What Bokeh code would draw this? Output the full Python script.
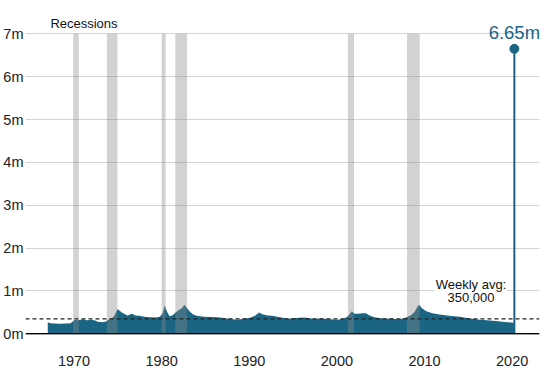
from bokeh.plotting import figure
from bokeh.embed import file_html
from bokeh.resources import INLINE
from bokeh.models import Range1d, CustomJSTickFormatter, Span, FixedTicker, ColumnDataSource
from bokeh.core.properties import value

# Weekly initial jobless claims (thousands)
years = [1967.0, 1967.3, 1967.8, 1968.4, 1969.0, 1969.6, 1970.1, 1970.5, 1971.0, 1971.5,
         1972.0, 1972.4, 1972.7, 1973.2, 1973.6, 1973.9, 1974.3, 1974.6, 1974.97, 1975.2,
         1975.5, 1976.1, 1976.6, 1977.0, 1977.5, 1978.0, 1978.7, 1979.3, 1979.8, 1980.1,
         1980.35, 1980.6, 1980.9, 1981.2, 1981.6, 1982.0, 1982.3, 1982.6, 1982.9, 1983.2,
         1983.6, 1984.0, 1984.8, 1985.7, 1986.7, 1987.6, 1988.6, 1989.4, 1990.2, 1990.7,
         1991.1, 1991.5, 1992.1, 1992.6, 1993.2, 1994.4, 1995.3, 1996.3, 1997.3, 1998.3,
         1999.2, 2000.1, 2000.8, 2001.2, 2001.7, 2002.0, 2002.4, 2002.9, 2003.3, 2003.8,
         2004.4, 2005.3, 2006.3, 2007.2, 2007.9, 2008.5, 2008.9, 2009.2, 2009.4, 2009.7,
         2010.2, 2010.9, 2011.7, 2012.8, 2014.0, 2015.2, 2016.3, 2017.5, 2018.6, 2019.5,
         2020.2]
claims = [270, 250, 240, 235, 240, 250, 330, 320, 340, 320,
          330, 310, 280, 270, 280, 330, 360, 420, 580, 540,
          490, 430, 470, 430, 420, 400, 390, 380, 400, 480,
          660, 520, 410, 430, 500, 560, 600, 680, 600, 520,
          450, 420, 400, 395, 380, 350, 330, 350, 380, 430,
          500, 460, 430, 420, 400, 350, 370, 380, 350, 360,
          340, 330, 360, 400, 530, 470, 470, 480, 480, 420,
          380, 360, 350, 340, 380, 440, 520, 640, 680, 600,
          530, 480, 450, 420, 400, 360, 330, 310, 290, 270,
          260]

spike_year = [2020.25]
spike_val = [6650]

rec_start = [1969.9, 1973.75, 1980.0, 1981.55, 2001.25, 2008.0]
rec_end = [1970.55, 1974.95, 1980.45, 1982.9, 2001.95, 2009.45]

avg_claims = 350
y_ticks = [0, 1, 2, 3, 4, 5, 6, 7]
x_ticks = [1970, 1980, 1990, 2000, 2010, 2020]

FONT = "Liberation Sans"
TEAL = "#1b6584"

p = figure(width=540, height=376, output_backend="svg", toolbar_location=None,
           x_range=Range1d(1964.46, 2023.12), y_range=Range1d(-0.015, 7.778),
           min_border_left=22, min_border_right=1, min_border_top=0, min_border_bottom=42)
p.outline_line_color = None
p.background_fill_color = "white"

p.xgrid.grid_line_color = None
p.ygrid.grid_line_color = "#d4d4d4"
p.ygrid.grid_line_width = 1
p.yaxis.ticker = FixedTicker(ticks=y_ticks)
p.xaxis.ticker = FixedTicker(ticks=x_ticks)

p.yaxis.formatter = CustomJSTickFormatter(code="return tick + 'm';")
for ax in (p.xaxis[0], p.yaxis[0]):
    ax.axis_line_color = None
    ax.major_tick_line_color = None
    ax.minor_tick_line_color = None
    ax.major_tick_out = 0
    ax.major_tick_in = 0
    ax.minor_tick_out = 0
    ax.minor_tick_in = 0
    ax.major_label_text_font = FONT
    ax.major_label_text_color = "#222222"
p.yaxis.major_label_text_font_size = "14.5px"
p.xaxis.major_label_text_font_size = "14.5px"
p.yaxis.major_label_standoff = 2
p.xaxis.major_label_standoff = 21

# area
ym = [c / 1000 for c in claims]
p.varea(x=years, y1=[0] * len(years), y2=ym, fill_color=TEAL)

# spike
sy = [v / 1000 for v in spike_val]
p.segment(x0=spike_year, y0=[0], x1=spike_year, y1=sy, line_color=TEAL, line_width=2)
p.scatter(x=spike_year, y=sy, size=9, fill_color=TEAL, line_color=TEAL)
p.text(x=spike_year, y=sy, text=["6.65m"], text_font=value(FONT), text_font_size="18.5px",
       text_color=TEAL, text_align="center", text_baseline="bottom", y_offset=-6)

# recession bars
p.quad(left=rec_start, right=rec_end, bottom=[0] * len(rec_start), top=[7] * len(rec_start),
       fill_color="#8a8a8a", fill_alpha=0.38, line_color=None)
p.text(x=[1967.3], y=[7], text=["Recessions"], text_font=value(FONT), text_font_size="13px",
       text_color="#111111", text_align="left", text_baseline="bottom", y_offset=-3)

# zero line and average line
p.add_layout(Span(location=0, dimension="width", line_color="black", line_width=1.6))
p.add_layout(Span(location=avg_claims / 1000, dimension="width", line_color="#222222",
                  line_width=1.2, line_dash="4 3"))

# avg label with white background
avg_src = ColumnDataSource(dict(x=[2015.3, 2015.3], y=[1.15, 0.85], t=["Weekly avg:", "350,000"]))
p.rect(x=[2015.3], y=[1.0], width=8.3, height=0.36, fill_color="white", line_color=None)
p.text(x="x", y="y", text="t", source=avg_src, text_font=value(FONT), text_font_size="13px",
       text_color="#111111", text_align="center", text_baseline="middle")

open("out.html", "w").write(file_html(p, INLINE))
